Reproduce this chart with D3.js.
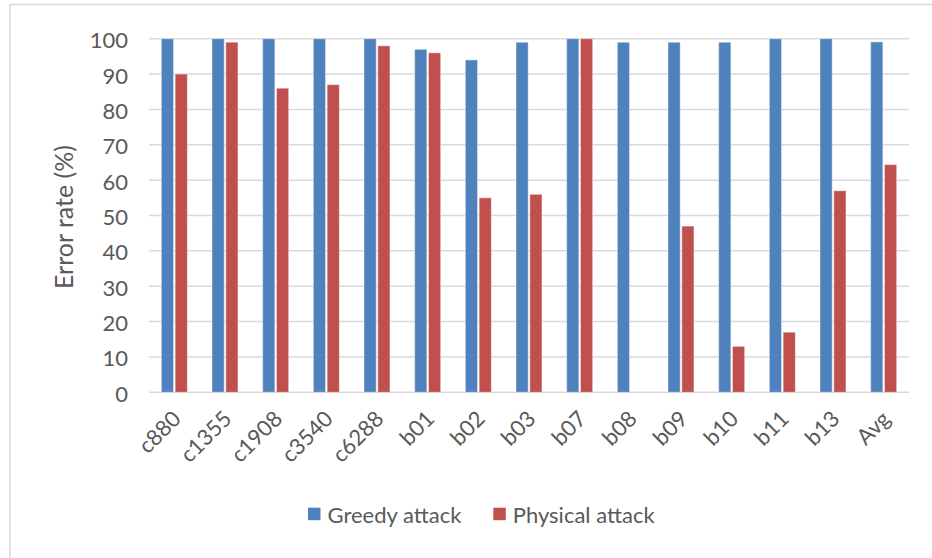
<!DOCTYPE html>
<html>
<head>
<meta charset="utf-8">
<script src="https://cdn.jsdelivr.net/npm/d3@7"></script>
<style>
  html, body { margin: 0; padding: 0; background: #fff; }
  svg { display: block; }
  text { font-family: Lato, "Open Sans", "Liberation Sans", sans-serif; fill: #595959; }
</style>
</head>
<body>
<svg id="chart" width="932" height="558"></svg>
<script>
// Benchmarks and error rates (%) per attack
const categories = ["c880", "c1355", "c1908", "c3540", "c6288", "b01", "b02", "b03", "b07", "b08", "b09", "b10", "b11", "b13", "Avg"];
const seriesNames = ["Greedy attack", "Physical attack"];
const greedy   = [100, 100, 100, 100, 100, 97, 94, 99, 100, 99, 99, 99, 100, 100, 99.1];
const physical = [90, 99, 86, 87, 98, 96, 55, 56, 100, 0, 47, 13, 17, 57, 64.4];
const yTicks = [0, 10, 20, 30, 40, 50, 60, 70, 80, 90, 100];
const colors = ["#4F81BD", "#C0504D"];

const svg = d3.select("#chart");

// Chart frame
svg.append("rect")
  .attr("x", 10).attr("y", 4.5)
  .attr("width", 940).attr("height", 600)
  .attr("fill", "none").attr("stroke", "#D9D9D9").attr("stroke-width", 1.5);

const plot = { left: 149, right: 909, top: 38.7, bottom: 392.3 };

const x = d3.scaleBand().domain(categories).range([plot.left, plot.right]);
const bw = x.bandwidth();
const x1 = d3.scaleBand().domain(seriesNames)
  .range([bw / 2 - 13, bw / 2 + 13]).paddingInner(3 / 26);
const y = d3.scaleLinear().domain([0, 100]).range([plot.bottom, plot.top]);

// Gridlines
svg.append("g")
  .selectAll("line").data(yTicks).join("line")
  .attr("x1", plot.left).attr("x2", plot.right)
  .attr("y1", d => y(d)).attr("y2", d => y(d))
  .attr("stroke", "#D9D9D9").attr("stroke-width", 1.5);

// Y axis labels
const yAxis = d3.axisLeft(y).tickValues(yTicks).tickSize(0).tickPadding(0);
const gy = svg.append("g").attr("transform", `translate(${plot.left - 21},2)`).call(yAxis);
gy.select(".domain").remove();
gy.selectAll("text").attr("font-size", 22).attr("fill", "#595959")
  .style("font-family", "Lato, 'Open Sans', sans-serif");

// Y axis title
svg.append("text")
  .attr("transform", `translate(73,217) rotate(-90)`)
  .attr("text-anchor", "middle")
  .attr("font-size", 25)
  .text("Error rate (%)");

// Bars
const rows = categories.map((c, i) => ({ cat: c, values: [greedy[i], physical[i]] }));
const groups = svg.append("g").selectAll("g").data(rows).join("g")
  .attr("transform", d => `translate(${x(d.cat)},0)`);
groups.selectAll("rect")
  .data(d => d.values.map((v, k) => ({ key: seriesNames[k], v, k })))
  .join("rect")
  .filter(d => d.v > 0)
  .attr("x", d => x1(d.key))
  .attr("width", x1.bandwidth())
  .attr("y", d => y(d.v))
  .attr("height", d => y(0) - y(d.v))
  .attr("fill", d => colors[d.k])
  .attr("stroke", "rgba(255,255,255,0.45)")
  .attr("stroke-width", 1);

// X axis labels, rotated
const xAxis = d3.axisBottom(x).tickSize(0).tickPadding(0);
const gx = svg.append("g").attr("transform", `translate(0,${plot.bottom})`).call(xAxis);
gx.select(".domain").remove();
gx.selectAll("text")
  .attr("font-size", 22).attr("fill", "#595959")
  .style("font-family", "Lato, 'Open Sans', sans-serif")
  .attr("text-anchor", "end")
  .attr("dy", 0).attr("y", 0)
  .attr("transform", "translate(8,28) rotate(-45)");

// Legend
const legendItems = [
  { name: seriesNames[0], color: colors[0], x: 308 },
  { name: seriesNames[1], color: colors[1], x: 493.3 }
];
const lg = svg.append("g").selectAll("g").data(legendItems).join("g")
  .attr("transform", d => `translate(${d.x},507.7)`);
lg.append("rect").attr("width", 12.5).attr("height", 12.5).attr("fill", d => d.color);
lg.append("text").attr("x", 19.5).attr("y", 15).attr("font-size", 22).text(d => d.name);
</script>
</body>
</html>
